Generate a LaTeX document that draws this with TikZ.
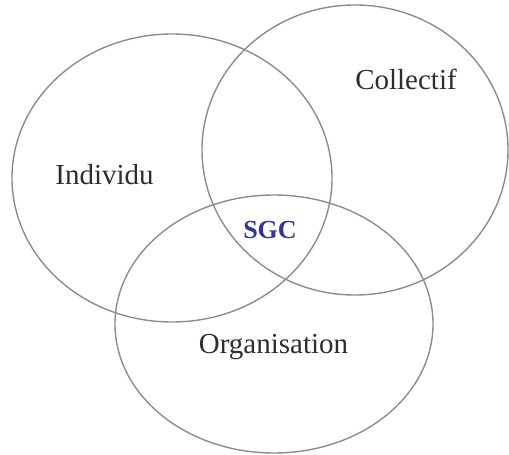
\documentclass[tikz,border=0pt]{standalone}
\usepackage{fontspec}
\setmainfont{Liberation Serif}
\usetikzlibrary{shapes.geometric}
\definecolor{ringgray}{RGB}{140,140,140}
\definecolor{txtgray}{RGB}{45,45,45}
\definecolor{sgcblue}{RGB}{51,51,153}
\begin{document}
\begin{tikzpicture}[x=1pt,y=-1pt,
  ring/.style={draw=ringgray,line width=1.4pt},
  lbl/.style={anchor=base,inner sep=0pt,text=txtgray,font=\fontsize{29}{34}\selectfont}]
\useasboundingbox (0,0) rectangle (509,455);
\draw[ring] (172,178) ellipse [x radius=160, y radius=144];
\draw[ring] (355,150) ellipse [x radius=153, y radius=145];
\draw[ring] (274,324) ellipse [x radius=159, y radius=129];
\node[lbl] (ind) at (104.5,184.5) {Individu};
\node[lbl] (col) at (406,89) {Collectif};
\node[lbl] (org) at (273.5,353) {Organisation};
\node[anchor=base,inner sep=0pt,text=sgcblue,font=\fontsize{26}{30}\selectfont\bfseries] (sgc) at (270,238) {SGC};
\end{tikzpicture}
\end{document}
